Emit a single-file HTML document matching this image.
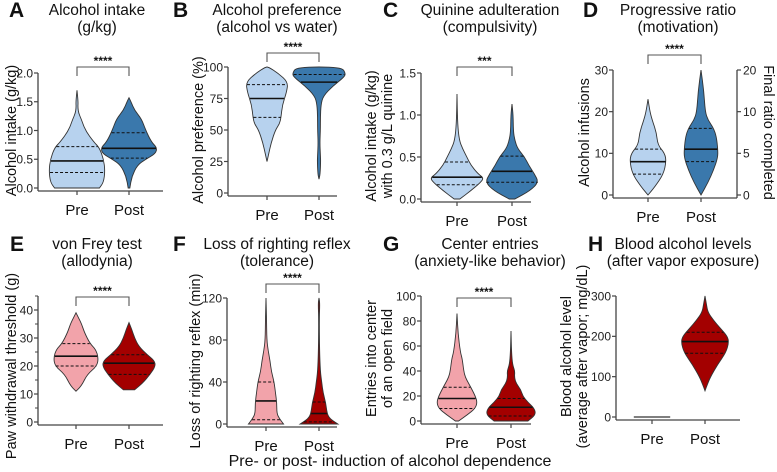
<!DOCTYPE html>
<html><head><meta charset="utf-8">
<style>
body{margin:0;background:#fff;}
svg{display:block;font-family:"Liberation Sans",Arial,sans-serif;}
</style></head>
<body>
<svg id="fig" width="777" height="472" viewBox="0 0 777 472" xmlns="http://www.w3.org/2000/svg">
<text x="390" y="466" font-size="16" text-anchor="middle" fill="#111">Pre- or post- induction of alcohol dependence</text>
</svg>
<script>
// ===== data =====
const groups = ["Pre","Post"];
// A Alcohol intake
const aPreVals=[0,0.1,0.3,0.5,0.7,0.8,1.0,1.2,1.3,1.4,1.5,1.7];
const aPreDens=[0.8,0.95,1.0,0.95,0.8,0.6,0.3,0.15,0.06,0.03,0.04,0];
const aPostVals=[0,0.2,0.4,0.5,0.6,0.7,0.8,1.0,1.2,1.35,1.5,1.57];
const aPostDens=[0.03,0.1,0.3,0.6,0.95,1.0,0.8,0.6,0.45,0.2,0.07,0];
const aStats=[[0.27,0.47,0.72],[0.52,0.69,0.96]];
const aTicks=[0,0.5,1.0,1.5,2.0];
// B preference
const bPreVals=[25,30,40,50,55,60,70,80,88,95,100];
const bPreDens=[0,0.05,0.15,0.3,0.45,0.5,0.55,0.7,0.75,0.4,0.05];
const bPostVals=[11,15,25,30,40,50,60,70,77,85,92,95,100];
const bPostDens=[0,0.04,0.06,0.05,0.03,0.05,0.05,0.07,0.15,0.5,0.9,0.95,0.8];
const bStats=[[60,75,86],[null,88,94]];
const bTicks=[0,25,50,75,100];
// C quinine
const cPreVals=[0,0.1,0.2,0.25,0.3,0.4,0.5,0.6,0.7,0.9,1.25];
const cPreDens=[0.1,0.5,0.85,0.95,0.75,0.5,0.35,0.2,0.08,0.02,0];
const cPostVals=[0,0.1,0.2,0.3,0.4,0.5,0.6,0.7,0.8,1.0,1.13];
const cPostDens=[0.1,0.65,0.95,0.8,0.6,0.45,0.2,0.1,0.05,0.04,0];
const cStats=[[0.17,0.26,0.44],[0.2,0.33,0.51]];
const cTicks=[0,0.5,1.0,1.5];
// D progressive ratio
const dPreVals=[0,2,5,8,10,12,15,18,20,23];
const dPreDens=[0,0.25,0.55,0.65,0.6,0.35,0.3,0.15,0.07,0];
const dPostVals=[0,3,6,9,11,14,16,18,20,25,30];
const dPostDens=[0,0.25,0.45,0.6,0.6,0.55,0.45,0.25,0.15,0.1,0];
const dStats=[[5,8,11],[8,11,16]];
const dTicks=[0,10,20,30];
const dRightTicks=["0","5","10","20"];
const dRightPos=[0,10,20,30];
// E von Frey
const ePreVals=[11,13,17,20,23,26,28,32,35,37,39];
const ePreDens=[0,0.2,0.4,0.75,0.8,0.7,0.5,0.3,0.2,0.1,0];
const ePostVals=[11.5,14,17,20,22,24,27,30,33,35.5];
const ePostDens=[0.2,0.5,0.75,0.95,0.9,0.65,0.35,0.2,0.1,0];
const eStats=[[20,23.5,28],[17,21,24]];
const eTicks=[0,10,20,30,40];
// F LORR
const fPreVals=[0,5,10,20,30,40,50,60,70,80,100,120];
const fPreDens=[0.65,0.5,0.4,0.4,0.35,0.3,0.2,0.15,0.08,0.03,0.02,0];
const fPostVals=[0,5,10,20,30,40,50,70,100,115,120];
const fPostDens=[0.7,0.4,0.3,0.25,0.15,0.1,0.05,0.02,0.01,0.03,0];
const fStats=[[4,22,40],[2,10,21]];
const fTicks=[0,40,80,120];
// G center entries
const gPreVals=[0,5,10,15,20,25,30,35,40,50,55,70,86];
const gPreDens=[0.06,0.4,0.7,0.78,0.7,0.58,0.45,0.32,0.26,0.2,0.13,0.04,0];
const gPostVals=[0,5,10,15,20,25,30,35,40,45,55,72];
const gPostDens=[0.65,0.95,0.9,0.65,0.45,0.38,0.2,0.13,0.15,0.06,0.02,0];
const gStats=[[10,18,27],[4,11,18]];
const gTicks=[0,20,40,60,80,100];
// H BAL
const hPreVals=[0,0];
const hPreDens=[0.65,0.65];
const hPostVals=[65,80,100,130,160,185,200,220,240,260,280,300];
const hPostDens=[0,0.08,0.2,0.45,0.75,0.85,0.8,0.55,0.3,0.1,0.05,0];
const hStats=[[null,null,null],[158,187,210]];
const hTicks=[0,100,200,300];

// ===== drawing =====
const NS="http://www.w3.org/2000/svg";
const fig=document.getElementById('fig');
function mk(tag,attrs,parent){const e=document.createElementNS(NS,tag);for(const k in attrs)e.setAttribute(k,attrs[k]);(parent||fig).appendChild(e);return e;}
const BLUE=["#b7d2ee","#3a78ac"], RED=["#f2a3aa","#a30000"];

function panel(p){
  const g=mk('g',{});
  
  
  const ys=v=>p.y0+(v-p.min)/(p.max-p.min)*(p.y1-p.y0);
  const L=mk('text',{x:p.lx,y:p.ty+2,'font-size':21,'font-weight':'bold',fill:'#111'},g);L.textContent=p.id;
  
  
  p.title.forEach((t,i)=>{const e=mk('text',{x:p.tx,y:p.ty+i*17,'font-size':15.5,'text-anchor':'middle',fill:'#111'},g);e.textContent=t;
    
    });
  const ax=mk('line',{x1:p.ax,x2:p.ax,y1:ys(p.max)-(p.extra||0),y2:p.y0+3,stroke:'#444','stroke-width':1.3},g);
  
  
  const xa=mk('line',{x1:p.ax,x2:p.xe,y1:p.y0+3,y2:p.y0+3,stroke:'#444','stroke-width':1.3},g);
  
  
  p.ticks.forEach(t=>{const y=ys(t);mk('line',{x1:p.ax-4,x2:p.ax,y1:y,y2:y,stroke:'#444','stroke-width':1.2},g);
    const e=mk('text',{x:p.ax-5,y:y+4.3,'font-size':12,'text-anchor':'end',fill:'#222'},g);e.textContent=p.fmt(t);
    
    });
  if(p.minor)p.minor.forEach(t=>{const y=ys(t);mk('line',{x1:p.ax-3,x2:p.ax,y1:y,y2:y,stroke:'#444','stroke-width':1},g);});
  const lab=mk('text',{transform:`translate(${p.ylx},${(p.y0+ys(p.max))/2}) rotate(-90)`,'font-size':14.5,'text-anchor':'middle',fill:'#111'},g);
  
  
  p.ylab.forEach((t,i)=>{const s=mk('tspan',{x:0,dy:i?16:0},lab);s.textContent=t;});
  p.vio.forEach((v,i)=>{
    const cx=p.cx[i], W=p.hw;
    const pts=v.vals.map((val,k)=>[ys(val),v.dens[k]*W]);
    let d;
    if(v.flat){d=`M${cx-pts[0][1]},${pts[0][0]}L${cx+pts[0][1]},${pts[0][0]}`;}
    else{
      const right=pts.map(q=>[cx+q[1],q[0]]), left=pts.slice().reverse().map(q=>[cx-q[1],q[0]]);
      const all=right.concat(left);
      d=`M${cx},${pts[0][0]}L${all[0][0]},${all[0][1]}`;
      for(let k=1;k<all.length;k++){const a=all[k-1],b=all[k];const m=[(a[0]+b[0])/2,(a[1]+b[1])/2];d+=`Q${a[0]},${a[1]} ${m[0]},${m[1]}`;}
      d+=`L${all[all.length-1][0]},${all[all.length-1][1]}Z`;
    }
    const path=mk('path',{d:d,fill:v.flat?'none':p.col[i],stroke:'#333','stroke-width':v.flat?1.3:0.9},g);
    
    
    const wAt=val=>{for(let k=1;k<v.vals.length;k++){if(val<=v.vals[k]){const a=v.vals[k-1],b=v.vals[k];const t=(val-a)/(b-a||1);return (v.dens[k-1]+(v.dens[k]-v.dens[k-1])*t)*W;}}return 0;};
    p.stats[i].forEach((s,j)=>{if(s===null)return;const y=ys(s),w=wAt(s)*0.97;
      const ln=mk('line',{x1:cx-w,x2:cx+w,y1:y,y2:y,stroke:'#111','stroke-width':j===1?1.6:1,'stroke-dasharray':j===1?'none':'3,2'},g);
      
      });
    const gl=mk('text',{x:cx,y:p.y0+27,'font-size':15,'text-anchor':'middle',fill:'#111'},g);gl.textContent=groups[i];
    
    
    mk('line',{x1:cx,x2:cx,y1:p.y0+3,y2:p.y0+7,stroke:'#444','stroke-width':1.2},g);
  });
  if(p.sig){const b=mk('path',{d:`M${p.cx[0]},${p.by+9}V${p.by}H${p.cx[1]}V${p.by+9}`,fill:'none',stroke:'#555','stroke-width':1.1},g);
    
    
    const s=mk('text',{x:(p.cx[0]+p.cx[1])/2,y:p.by-2,'font-size':12,'font-weight':'bold','text-anchor':'middle',fill:'#111'},g);s.textContent=p.sig;
    
    }
  return {g,ys};
}
const f1=v=>v.toFixed(1), f0=v=>String(v);
panel({id:'A',lx:9,tx:97,ty:15,title:['Alcohol intake','(g/kg)'],ax:38,xe:163,y0:188,y1:73,min:0,max:2,ticks:aTicks,fmt:f1,ylx:16,ylab:['Alcohol intake (g/kg)'],
  cx:[77,129],hw:28,col:BLUE,vio:[{vals:aPreVals,dens:aPreDens},{vals:aPostVals,dens:aPostDens}],stats:aStats,sig:'****',by:67});
panel({id:'B',lx:173,tx:277,ty:15,title:['Alcohol preference','(alcohol vs water)'],ax:228,xe:337,y0:193,y1:67,min:0,max:100,ticks:bTicks,fmt:f0,ylx:203,ylab:['Alcohol preference (%)'],
  cx:[267,319],hw:28,col:BLUE,vio:[{vals:bPreVals,dens:bPreDens},{vals:bPostVals,dens:bPostDens}],stats:bStats,sig:'****',by:53});
panel({id:'C',lx:383,tx:490,ty:15,title:['Quinine adulteration','(compulsivity)'],ax:421,xe:531,y0:199,y1:73,min:0,max:1.5,ticks:cTicks,fmt:f1,ylx:376,ylab:['Alcohol intake (g/kg)','with 0.3 g/L quinine'],
  cx:[457,512],hw:28,col:BLUE,vio:[{vals:cPreVals,dens:cPreDens},{vals:cPostVals,dens:cPostDens}],stats:cStats,sig:'***',by:67});
const D=panel({id:'D',lx:583,tx:678,ty:15,title:['Progressive ratio','(motivation)'],ax:613,xe:737,y0:195,y1:70,min:0,max:30,ticks:dTicks,fmt:f0,ylx:589,ylab:['Alcohol infusions'],
  cx:[648,701],hw:28,col:BLUE,vio:[{vals:dPreVals,dens:dPreDens},{vals:dPostVals,dens:dPostDens}],stats:dStats,sig:'****',by:55});
const ra=mk('line',{x1:737,x2:737,y1:D.ys(30),y2:198,stroke:'#444','stroke-width':1.3});


dRightPos.forEach((pv,i)=>{const y=D.ys(pv);mk('line',{x1:737,x2:741,y1:y,y2:y,stroke:'#444','stroke-width':1.2});
  const t=mk('text',{x:743,y:y+4.3,'font-size':12,fill:'#222'});t.textContent=dRightTicks[i];
  
  });
const rl=mk('text',{transform:`translate(764,${D.ys(15)}) rotate(90)`,'font-size':14.5,'text-anchor':'middle',fill:'#111'});rl.textContent='Final ratio completed';



panel({id:'E',lx:10,tx:97,ty:249,title:['von Frey test','(allodynia)'],ax:38,xe:163,y0:422,y1:310,min:0,max:40,ticks:eTicks,minor:[5,15,25,35,45],extra:14,fmt:f0,ylx:16,ylab:['Paw withdrawal threshold (g)'],
  cx:[76,129],hw:28,col:RED,vio:[{vals:ePreVals,dens:ePreDens},{vals:ePostVals,dens:ePostDens}],stats:eStats,sig:'****',by:297});
panel({id:'F',lx:173,tx:277,ty:249,title:['Loss of righting reflex','(tolerance)'],ax:227,xe:337,y0:424,y1:298,min:0,max:120,ticks:fTicks,fmt:f0,ylx:200,ylab:['Loss of righting reflex (min)'],
  cx:[266,319],hw:27,col:RED,vio:[{vals:fPreVals,dens:fPreDens},{vals:fPostVals,dens:fPostDens}],stats:fStats,sig:'****',by:284});
panel({id:'G',lx:383,tx:490,ty:249,title:['Center entries','(anxiety-like behavior)'],ax:421,xe:531,y0:421,y1:296,min:0,max:100,ticks:gTicks,fmt:f0,ylx:376,ylab:['Entries into center','of an open field'],
  cx:[457,511],hw:26,col:RED,vio:[{vals:gPreVals,dens:gPreDens},{vals:gPostVals,dens:gPostDens}],stats:gStats,sig:'****',by:298});
panel({id:'H',lx:588,tx:683,ty:249,title:['Blood alcohol levels','(after vapor exposure)'],ax:616,xe:740,y0:417,y1:296,min:0,max:300,ticks:hTicks,fmt:f0,ylx:571,ylab:['Blood alcohol level','(average after vapor; mg/dL)'],
  cx:[652,705],hw:28,col:RED,vio:[{vals:hPreVals,dens:hPreDens,flat:true},{vals:hPostVals,dens:hPostDens}],stats:hStats,sig:null,by:0});
</script>
</body></html>
